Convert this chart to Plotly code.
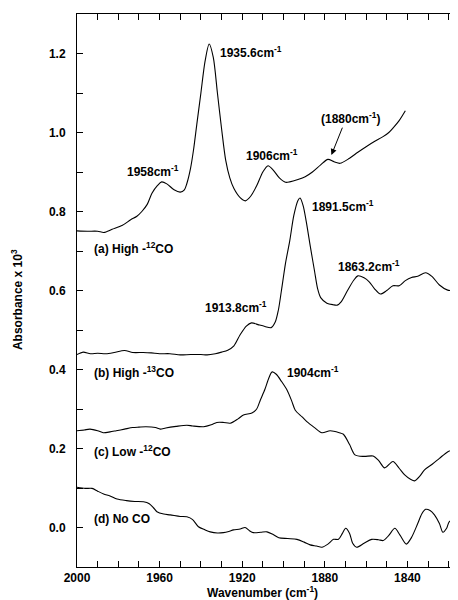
import plotly.graph_objects as go

# ---- data ----
a_x = [2000, 1995, 1990, 1987, 1983, 1978, 1974, 1971, 1968.6, 1966, 1963.7, 1961, 1959, 1956.5, 1953, 1950, 1948,
       1946.8, 1945, 1943.6, 1942, 1940, 1938, 1936, 1934, 1932, 1930, 1928, 1926, 1924, 1921, 1918.5, 1916, 1913,
       1910, 1907.5, 1905, 1902, 1899, 1897, 1893, 1889.5, 1886, 1882, 1878.5, 1875.5, 1872.6, 1868, 1864, 1860,
       1856, 1852, 1849, 1847, 1844, 1841]
a_y = [0.751, 0.750, 0.750, 0.747, 0.755, 0.765, 0.779, 0.788, 0.800, 0.818, 0.846, 0.866, 0.875, 0.870, 0.855, 0.849,
       0.855, 0.871, 0.910, 0.955, 1.020, 1.100, 1.180, 1.224, 1.190, 1.100, 1.010, 0.930, 0.885, 0.858, 0.835, 0.827,
       0.838, 0.865, 0.900, 0.916, 0.905, 0.885, 0.874, 0.875, 0.881, 0.888, 0.900, 0.918, 0.932, 0.926, 0.922, 0.935,
       0.950, 0.964, 0.977, 0.989, 1.000, 1.011, 1.030, 1.055]

b_x = [2000, 1997, 1993.5, 1990, 1986, 1982, 1977, 1973, 1968, 1964, 1960, 1955, 1950, 1945, 1940, 1937, 1933, 1930,
       1927, 1924, 1921, 1918, 1915.5, 1912, 1909, 1906, 1904, 1902.5, 1901, 1899, 1897, 1895, 1893, 1892, 1890.5,
       1889, 1887, 1885, 1883.5, 1882, 1879, 1876, 1874, 1872, 1869, 1866, 1864, 1861, 1858.5, 1856, 1853, 1850,
       1847, 1844, 1841, 1838, 1835, 1831.2, 1828, 1824.5, 1820.5, 1816]
b_y = [0.438, 0.444, 0.440, 0.441, 0.440, 0.443, 0.448, 0.443, 0.443, 0.442, 0.440, 0.440, 0.437, 0.438, 0.438, 0.437,
       0.440, 0.444, 0.449, 0.460, 0.488, 0.510, 0.518, 0.513, 0.509, 0.506, 0.520, 0.550, 0.600, 0.670, 0.725, 0.790,
       0.828, 0.834, 0.815, 0.775, 0.711, 0.650, 0.605, 0.582, 0.568, 0.564, 0.563, 0.572, 0.600, 0.626, 0.637, 0.632,
       0.622, 0.605, 0.591, 0.600, 0.612, 0.612, 0.625, 0.633, 0.636, 0.645, 0.635, 0.614, 0.601, 0.600]

c_x = [2000, 1996.5, 1993.7, 1990, 1987.3, 1984, 1981, 1977, 1973, 1970, 1966.6, 1962, 1959.7, 1957, 1952, 1946.8,
       1944, 1938.7, 1935, 1932.3, 1929, 1925.8, 1922, 1919.4, 1915.3, 1913, 1911.2, 1909, 1907, 1905.5, 1903.5,
       1901, 1898.3, 1896, 1894.3, 1891, 1888.7, 1885, 1881.4, 1877.4, 1873, 1871, 1868, 1865.4, 1861, 1856.6,
       1854, 1851, 1847, 1844, 1841.3, 1838.5, 1836.5, 1834, 1831.7, 1828, 1824.5, 1820.4, 1816]
c_y = [0.245, 0.247, 0.249, 0.245, 0.240, 0.242, 0.245, 0.249, 0.253, 0.254, 0.255, 0.253, 0.249, 0.252, 0.256, 0.259,
       0.257, 0.255, 0.260, 0.266, 0.266, 0.264, 0.275, 0.285, 0.290, 0.300, 0.323, 0.350, 0.380, 0.394, 0.388,
       0.370, 0.348, 0.320, 0.297, 0.280, 0.268, 0.253, 0.240, 0.245, 0.240, 0.236, 0.210, 0.184, 0.180, 0.181,
       0.170, 0.151, 0.167, 0.150, 0.133, 0.122, 0.118, 0.130, 0.146, 0.160, 0.175, 0.192, 0.200]

d_x = [2000, 1996, 1992.7, 1990, 1987.1, 1984, 1980.6, 1976, 1972, 1967.8, 1965, 1963, 1961.3, 1958, 1954.9, 1950,
       1946.8, 1944, 1941.2, 1938, 1935.5, 1932, 1929.1, 1926.5, 1924.2, 1921, 1918.6, 1916.5, 1914.6, 1911, 1908,
       1905, 1902.3, 1898, 1893.5, 1890, 1887.1, 1884, 1881.4, 1878.5, 1875.8, 1873.4, 1871.5, 1869.9, 1868,
       1866.5, 1864.6, 1861, 1857.3, 1854, 1851.7, 1849, 1846.1, 1843.5, 1840.5, 1838, 1835, 1833, 1831.2, 1829,
       1826.9, 1824.5, 1822.8, 1821, 1819.7, 1816]
d_y = [0.102, 0.099, 0.099, 0.092, 0.085, 0.080, 0.072, 0.068, 0.066, 0.065, 0.060, 0.050, 0.040, 0.034, 0.032, 0.028,
       0.027, 0.020, 0.002, -0.006, -0.011, -0.014, -0.013, -0.010, -0.006, -0.004, 0.000, -0.008, -0.013, -0.012,
       -0.011, -0.018, -0.026, -0.028, -0.030, -0.037, -0.044, -0.047, -0.050, -0.042, -0.030, -0.030, -0.015,
       -0.002, -0.015, -0.040, -0.050, -0.040, -0.030, -0.031, -0.033, -0.020, -0.002, -0.020, -0.042, -0.025,
       0.010, 0.035, 0.046, 0.043, 0.032, 0.010, -0.012, -0.002, 0.015, 0.022]

# tick positions (every 10 cm-1 / every 0.1), labelled every 40 cm-1 / every 0.2
x_tickvals = [2000, 1990, 1980, 1970, 1960, 1950, 1940, 1930, 1920, 1910, 1900, 1890, 1880, 1870, 1860, 1850,
              1840, 1830, 1820]
x_ticktext = ["2000", "", "", "", "1960", "", "", "", "1920", "", "", "", "1880", "", "", "", "1840", "", ""]
y_tickvals = [-0.1, 0.0, 0.1, 0.2, 0.3, 0.4, 0.5, 0.6, 0.7, 0.8, 0.9, 1.0, 1.1, 1.2, 1.3]
y_ticktext = ["", "0.0", "", "0.2", "", "0.4", "", "0.6", "", "0.8", "", "1.0", "", "1.2", ""]

peak_labels = [
    ("1958cm<sup>-1</sup>", 1976.6, 0.903),
    ("1935.6cm<sup>-1</sup>", 1931.6, 1.205),
    ("1906cm<sup>-1</sup>", 1919.1, 0.943),
    ("(1880cm<sup>-1</sup>)", 1882.9, 1.036),
    ("1891.5cm<sup>-1</sup>", 1887.3, 0.815),
    ("1863.2cm<sup>-1</sup>", 1874.5, 0.663),
    ("1913.8cm<sup>-1</sup>", 1938.8, 0.557),
    ("1904cm<sup>-1</sup>", 1899.4, 0.394),
]
curve_labels = [
    ("(a) High -<sup>12</sup>CO", 1992.7, 0.707),
    ("(b) High -<sup>13</sup>CO", 1992.7, 0.394),
    ("(c) Low -<sup>12</sup>CO", 1992.7, 0.193),
    ("(d) No CO", 1992.7, 0.0215),
]

FONT = "Arial, Liberation Sans, Helvetica, sans-serif"

fig = go.Figure()
for xs, ys in [(a_x, a_y), (b_x, b_y), (c_x, c_y), (d_x, d_y)]:
    fig.add_trace(go.Scatter(x=xs, y=ys, mode="lines",
                             line=dict(color="black", width=1.1, shape="spline", smoothing=0.8),
                             showlegend=False, hoverinfo="skip"))

for txt, x, y in peak_labels + curve_labels:
    fig.add_annotation(x=x, y=y, xref="x", yref="y", text=txt, showarrow=False, xanchor="left", yanchor="middle",
                       font=dict(family=FONT, size=12, color="black", weight="bold"))

# arrow toward the 1880 shoulder
fig.add_annotation(x=1876.8, y=0.943, ax=1871.2, ay=1.016, xref="x", yref="y", axref="x", ayref="y",
                   text="", showarrow=True, arrowhead=2, arrowsize=1.2, arrowwidth=1, arrowcolor="black")

# axis titles
fig.add_annotation(x=0.4856, y=-0.045, xref="paper", yref="paper", text="Wavenumber (cm<sup>-1</sup>)",
                   showarrow=False, xanchor="center", yanchor="middle",
                   font=dict(family=FONT, size=12, color="black", weight="bold"))
fig.add_annotation(x=-0.157, y=0.483, xref="paper", yref="paper", text="Absorbance x 10<sup>3</sup>",
                   showarrow=False, textangle=-90, xanchor="center", yanchor="middle",
                   font=dict(family=FONT, size=12, color="black", weight="bold"))

fig.update_layout(
    template="none", width=458, height=600,
    # the page body adds an 8px offset on top/left, so margins are reduced accordingly
    margin=dict(l=69, r=8, t=6, b=41, autoexpand=False),
    plot_bgcolor="white", paper_bgcolor="white",
    xaxis=dict(range=[2000, 1815.5], tickmode="array", tickvals=x_tickvals, ticktext=x_ticktext,
               ticks="inside", ticklen=6, tickwidth=1, tickcolor="black",
               showline=True, linecolor="black", linewidth=1, mirror="allticks",
               showgrid=False, zeroline=False, automargin=False,
               tickfont=dict(family=FONT, size=12, color="black", weight="bold")),
    yaxis=dict(range=[-0.1, 1.3], tickmode="array", tickvals=y_tickvals, ticktext=y_ticktext,
               ticks="inside", ticklen=6, tickwidth=1, tickcolor="black",
               showline=True, linecolor="black", linewidth=1, mirror="allticks",
               showgrid=False, zeroline=False, automargin=False, ticklabelstandoff=8,
               tickfont=dict(family=FONT, size=12, color="black", weight="bold")),
)

fig.write_html("out.html")
